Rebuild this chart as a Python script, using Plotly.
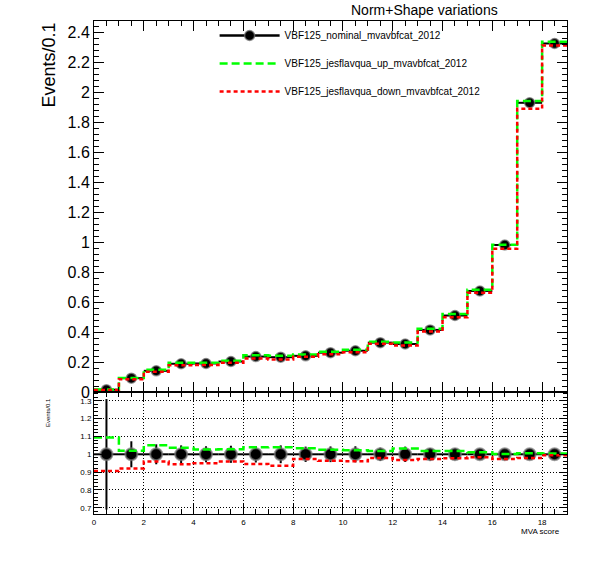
import plotly.graph_objects as go
from plotly.subplots import make_subplots

# ---- data (19 bins of width 1 on [0, 19]) ----
bin_edges = list(range(20))
bin_centers = [i + 0.5 for i in range(19)]

nominal = [0.016, 0.093, 0.142, 0.189, 0.191, 0.204, 0.237, 0.233, 0.242, 0.263,
           0.276, 0.330, 0.321, 0.415, 0.511, 0.675, 0.982, 1.931, 2.327]
nominal_rel_err = [0.31, 0.073, 0.056, 0.050, 0.045, 0.048, 0.046, 0.050, 0.043, 0.044,
                   0.045, 0.037, 0.043, 0.035, 0.033, 0.028, 0.019, 0.014, 0.012]
jes_up = [0.0175, 0.0948, 0.1491, 0.1958, 0.1960, 0.2097, 0.2462, 0.2421, 0.2502, 0.2696,
          0.2821, 0.3363, 0.3313, 0.4229, 0.5207, 0.6824, 0.9840, 1.9426, 2.3380]
jes_down = [0.0145, 0.0856, 0.1363, 0.1784, 0.1815, 0.1958, 0.2242, 0.2179, 0.2355, 0.2533,
            0.2652, 0.3231, 0.3107, 0.4042, 0.4998, 0.6635, 0.9565, 1.8905, 2.3130]

names = ["VBF125_nominal_mvavbfcat_2012",
         "VBF125_jesflavqua_up_mvavbfcat_2012",
         "VBF125_jesflavqua_down_mvavbfcat_2012"]

nominal_err = [v * e for v, e in zip(nominal, nominal_rel_err)]
ratio_up = [u / n for u, n in zip(jes_up, nominal)]
ratio_down = [d / n for d, n in zip(jes_down, nominal)]
ratio_nom = [1.0] * len(nominal)


def steps(vals):
    # histogram outline: value repeated at the last edge
    return list(vals) + [vals[-1]]


FONT = "Liberation Sans, Arial, sans-serif"
GREEN = "#00ff00"
RED = "#ff0000"
HALO = "rgba(120,120,120,0.7)"

fig = make_subplots(rows=2, cols=1, shared_xaxes=True, vertical_spacing=0)

# ---- top panel ----
fig.add_trace(go.Scatter(
    x=bin_centers, y=nominal, mode="markers",
    marker=dict(symbol="circle", size=10, color="black", line=dict(color=HALO, width=1.5)),
    error_x=dict(type="constant", value=0.5, width=0, thickness=2, color="black"),
    error_y=dict(type="data", array=nominal_err, width=0, thickness=2, color="black"),
    showlegend=False, hoverinfo="x+y"
), row=1, col=1)

fig.add_trace(go.Scatter(
    x=bin_edges, y=steps(jes_up), mode="lines", line_shape="hv",
    line=dict(color=GREEN, width=2.5, dash="8px,4px"),
    showlegend=False
), row=1, col=1)

fig.add_trace(go.Scatter(
    x=bin_edges, y=steps(jes_down), mode="lines", line_shape="hv",
    line=dict(color=RED, width=2.5, dash="4px,3px"),
    showlegend=False
), row=1, col=1)

# legend entries
fig.add_trace(go.Scatter(
    x=[None], y=[None], mode="lines+markers", name=names[0], legendgroup="a",
    line=dict(color="black", width=2.5),
    marker=dict(size=10, color="black", line=dict(color=HALO, width=1.5))
), row=1, col=1)
fig.add_trace(go.Scatter(
    x=[None], y=[None], mode="lines", name=names[1], legendgroup="b",
    line=dict(color=GREEN, width=2.5, dash="8px,4px")
), row=1, col=1)
fig.add_trace(go.Scatter(
    x=[None], y=[None], mode="lines", name=names[2], legendgroup="c",
    line=dict(color=RED, width=2.5, dash="4px,3px")
), row=1, col=1)

# ---- ratio panel ----
fig.add_trace(go.Scatter(
    x=bin_centers, y=ratio_nom, mode="markers",
    marker=dict(symbol="circle", size=12, color="black", line=dict(color=HALO, width=2)),
    error_x=dict(type="constant", value=0.5, width=0, thickness=2, color="black"),
    error_y=dict(type="data", array=nominal_rel_err, width=0, thickness=2, color="black"),
    showlegend=False
), row=2, col=1)

fig.add_trace(go.Scatter(
    x=bin_edges, y=steps(ratio_up), mode="lines", line_shape="hv",
    line=dict(color=GREEN, width=2.5, dash="8px,4px"), showlegend=False
), row=2, col=1)

fig.add_trace(go.Scatter(
    x=bin_edges, y=steps(ratio_down), mode="lines", line_shape="hv",
    line=dict(color=RED, width=2.5, dash="4px,3px"), showlegend=False
), row=2, col=1)

# ---- axes ----
split = 0.2473
common = dict(showline=True, linecolor="black", linewidth=1, mirror="allticks",
              ticks="inside", tickcolor="black", zeroline=False)

fig.update_xaxes(range=[0, 19], dtick=2, tick0=0, ticklen=10,
                 minor=dict(dtick=0.5, ticks="inside", ticklen=5, tickcolor="black", showgrid=False),
                 showgrid=False, **common)
fig.update_xaxes(showticklabels=False, row=1, col=1)
fig.update_xaxes(showticklabels=True, tickfont=dict(size=8, family=FONT, color="black"),
                 showgrid=True, gridcolor="black", griddash="1px,2px", gridwidth=1,
                 row=2, col=1)

fig.update_yaxes(range=[0, 2.477], dtick=0.2, tick0=0, ticklen=10,
                 tickfont=dict(size=16, family=FONT, color="black"),
                 minor=dict(dtick=0.04, ticks="inside", ticklen=5, tickcolor="black"),
                 showgrid=False, domain=[split, 1], row=1, col=1, **common)
fig.update_yaxes(range=[0.665, 1.349], dtick=0.1, tick0=0, ticklen=8,
                 tickfont=dict(size=8, family=FONT, color="black"),
                 minor=dict(dtick=0.02, ticks="inside", ticklen=4, tickcolor="black", showgrid=False),
                 showgrid=True, gridcolor="black", griddash="1px,2px", gridwidth=1,
                 domain=[0, split], row=2, col=1, **common)

# ---- text ----
fig.add_annotation(text="Events/0.1", xref="paper", yref="paper", x=-0.097, y=1.0,
                   xanchor="center", yanchor="top", textangle=-90, showarrow=False,
                   font=dict(size=18, family=FONT, color="black"))
fig.add_annotation(text="Events/0.1", xref="paper", yref="paper", x=-0.097, y=0.205,
                   xanchor="center", yanchor="middle", textangle=-90, showarrow=False,
                   font=dict(size=6, family=FONT, color="black"))
fig.add_annotation(text="MVA score", xref="paper", yref="paper", x=0.99, y=-0.035,
                   xanchor="right", yanchor="middle", showarrow=False,
                   font=dict(size=8, family=FONT, color="black"))

fig.update_layout(
    width=596, height=572,
    margin=dict(l=94, r=29, t=21, b=58),
    paper_bgcolor="white", plot_bgcolor="white",
    title=dict(text="Norm+Shape variations", x=0.712, xanchor="center",
               y=1 - 10 / 572, yanchor="middle",
               font=dict(size=14, family=FONT, color="black")),
    legend=dict(x=0.255, y=1.0, xanchor="left", yanchor="top",
                bgcolor="rgba(0,0,0,0)", itemwidth=60, tracegroupgap=9,
                traceorder="grouped",
                font=dict(size=10, family=FONT, color="black")),
)

# drop the browser's default 8px page margin so the figure sits at the window origin
fig.write_html("out.html", config={"displayModeBar": False},
               post_script="document.body.style.margin='0';")
